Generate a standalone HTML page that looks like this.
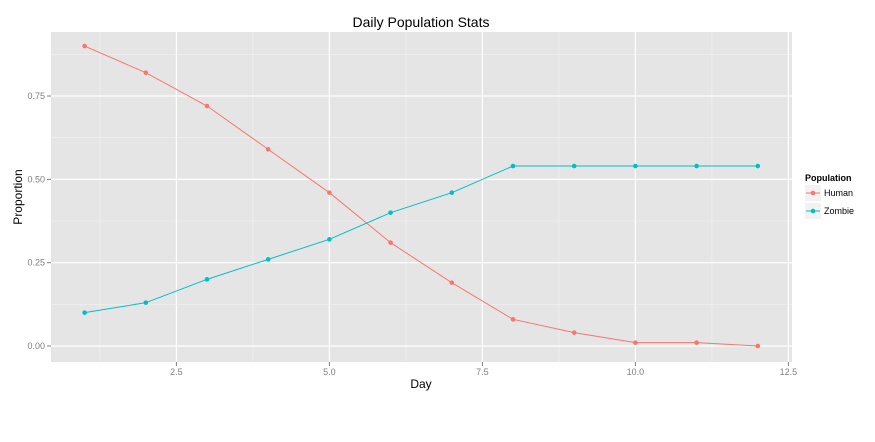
<!DOCTYPE html>
<html><head><meta charset="utf-8"><style>
body{margin:0;background:#fff;font-family:"Liberation Sans",sans-serif}
svg text{font-family:"Liberation Sans",sans-serif}
</style></head><body>
<svg id="c" width="875" height="437" xmlns="http://www.w3.org/2000/svg"></svg>
<script>
const days=[1,2,3,4,5,6,7,8,9,10,11,12];
const human=[0.9,0.82,0.72,0.59,0.46,0.31,0.19,0.08,0.04,0.01,0.01,0.0];
const zombie=[0.1,0.13,0.2,0.26,0.32,0.40,0.46,0.54,0.54,0.54,0.54,0.54];
const xTicks=[2.5,5.0,7.5,10.0,12.5];
const xTickLabels=["2.5","5.0","7.5","10.0","12.5"];
const yTicks=[0,0.25,0.5,0.75];
const yTickLabels=["0.00","0.25","0.50","0.75"];
const NS="http://www.w3.org/2000/svg",svg=document.getElementById('c');
const L=51,R=792,T=32,B=362;
const xs=v=>84.6+(v-1)*61.2, ys=v=>346-v*333.3;
function el(t,a,p){const e=document.createElementNS(NS,t);for(const k in a)e.setAttribute(k,a[k]);(p||svg).appendChild(e);return e;}
const panel=el('rect',{x:L,y:T,width:R-L,height:B-T,fill:'#e5e5e5'});


for(let i=0;i<xTicks.length;i++){const v=xTicks[i]-1.25;if(xs(v)>L)el('line',{x1:xs(v),x2:xs(v),y1:T,y2:B,stroke:'#f2f2f2','stroke-width':0.6});}
for(let i=0;i<yTicks.length;i++){const v=yTicks[i]+0.125;el('line',{x1:L,x2:R,y1:ys(v),y2:ys(v),stroke:'#f2f2f2','stroke-width':0.6});}
xTicks.forEach((v,i)=>{const g=el('line',{x1:xs(v),x2:xs(v),y1:T,y2:B,stroke:'#fff','stroke-width':1.2});


el('line',{x1:xs(v),x2:xs(v),y1:B,y2:B+4,stroke:'#7f7f7f'});
const t=el('text',{x:xs(v),y:B+13,'font-size':9,fill:'#7f7f7f','text-anchor':'middle'});t.textContent=xTickLabels[i];

});
yTicks.forEach((v,i)=>{const g=el('line',{x1:L,x2:R,y1:ys(v),y2:ys(v),stroke:'#fff','stroke-width':1.2});


el('line',{x1:L-4,x2:L,y1:ys(v),y2:ys(v),stroke:'#7f7f7f'});
const t=el('text',{x:L-6,y:ys(v)+3,'font-size':9,fill:'#7f7f7f','text-anchor':'end'});t.textContent=yTickLabels[i];

});
function series(vals,col,name){const d=vals.map((v,i)=>(i?'L':'M')+xs(days[i])+','+ys(v)).join('');
const p=el('path',{d:d,fill:'none',stroke:col,'stroke-width':1});


vals.forEach((v,i)=>{const c=el('circle',{cx:xs(days[i]),cy:ys(v),r:2.3,fill:col});

});}
series(human,'#f8766d','human');
series(zombie,'#00bfc4','zombie');
const title=el('text',{x:421,y:27,'font-size':14,'text-anchor':'middle',fill:'#000'});title.textContent='Daily Population Stats';


const xt=el('text',{x:421,y:388,'font-size':12,'text-anchor':'middle'});xt.textContent='Day';


const yt=el('text',{x:22,y:197,'font-size':12,'text-anchor':'middle',transform:'rotate(-90 22 197)'});yt.textContent='Proportion';


const lt=el('text',{x:805,y:181,'font-size':9,'font-weight':'bold'});lt.textContent='Population';


[['Human','#f8766d',185],['Zombie','#00bfc4',203]].forEach(([n,c,y])=>{
const g=el('g',{});


el('rect',{x:805,y:y,width:16,height:16,fill:'#f2f2f2'},g);
el('line',{x1:806,x2:820,y1:y+8,y2:y+8,stroke:c},g);
el('circle',{cx:813,cy:y+8,r:2.3,fill:c},g);
const t=el('text',{x:824,y:y+11,'font-size':9},g);t.textContent=n;});
</script>
</body></html>
